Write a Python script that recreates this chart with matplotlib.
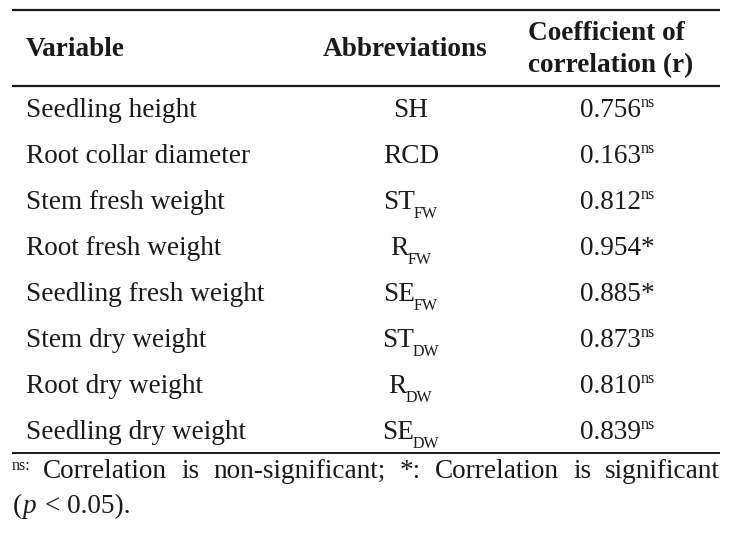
import matplotlib
matplotlib.use("Agg")
import matplotlib.pyplot as plt

plt.rcParams["font.family"] = ["Liberation Serif", "DejaVu Serif"]

# table content
headers = ["Variable", "Abbreviations", "Coefficient of\ncorrelation (r)"]
variables = ["Seedling height", "Root collar diameter", "Stem fresh weight", "Root fresh weight",
             "Seedling fresh weight", "Stem dry weight", "Root dry weight", "Seedling dry weight"]
abbr_base = ["SH", "RCD", "ST", "R", "SE", "ST", "R", "SE"]
abbr_sub = ["", "", "FW", "FW", "FW", "DW", "DW", "DW"]
r_values = [0.756, 0.163, 0.812, 0.954, 0.885, 0.873, 0.810, 0.839]
r_marks = ["ns", "ns", "ns", "*", "*", "ns", "ns", "ns"]
footnote_words = ["Correlation", "is", "non-significant;", "*:", "Correlation", "is", "significant"]

W, H = 729, 533
fig = plt.figure(figsize=(W / 100, H / 100), dpi=100)
ax = fig.add_axes([0, 0, 1, 1])
ax.set_xlim(0, W)
ax.set_ylim(H, 0)
ax.axis("off")
renderer = fig.canvas.get_renderer()

FS = 19.6
SMALL = 11.5
color = "#1a1a1a"


def width(t):
    return t.get_window_extent(renderer).width


# rules
ax.plot([12, 720], [10, 10], color=color, lw=1.6, solid_capstyle="butt")
ax.plot([12, 720], [86, 86], color=color, lw=1.6, solid_capstyle="butt")
ax.plot([12, 720], [453, 453], color=color, lw=1.4, solid_capstyle="butt")

# header
ax.text(26, 56, headers[0], fontsize=FS, fontweight="bold", va="baseline", ha="left", color=color)
ax.text(405, 56, headers[1], fontsize=FS, fontweight="bold", va="baseline", ha="center", color=color)
for i, line in enumerate(headers[2].split("\n")):
    ax.text(528, 40 + 32 * i, line, fontsize=FS, fontweight="bold", va="baseline", ha="left", color=color)

# body rows
for i, var in enumerate(variables):
    y = 117 + 46 * i
    ax.text(26, y, var, fontsize=FS, va="baseline", ha="left", color=color)

    base = ax.text(0, y, abbr_base[i], fontsize=FS, va="baseline", ha="left", color=color)
    sub = ax.text(0, y + 9, abbr_sub[i], fontsize=SMALL, va="baseline", ha="left", color=color)
    wb = width(base)
    ws = width(sub) if abbr_sub[i] else 0
    x0 = 411 - (wb + ws) / 2
    base.set_x(x0)
    sub.set_x(x0 + wb - 1)

    val = ax.text(580, y, f"{r_values[i]:.3f}", fontsize=FS, va="baseline", ha="left", color=color)
    wv = width(val)
    if r_marks[i] == "*":
        ax.text(580 + wv, y, "*", fontsize=FS, va="baseline", ha="left", color=color)
    else:
        ax.text(580 + wv, y - 10, r_marks[i], fontsize=SMALL, va="baseline", ha="left", color=color)

# footnote, justified first line
ax.text(12, 470, "ns:", fontsize=SMALL, va="baseline", ha="left", color=color)
fs_note = 19.6
word_texts = [ax.text(0, 478, w, fontsize=fs_note, va="baseline", ha="left", color=color)
              for w in footnote_words]
widths = [width(t) for t in word_texts]
left, right = 43, 720
gap = (right - left - sum(widths)) / (len(word_texts) - 1)
x = left
for t, w in zip(word_texts, widths):
    t.set_x(x)
    x += w + gap

p1 = ax.text(13, 513, "(", fontsize=fs_note, va="baseline", ha="left", color=color)
w1 = width(p1)
p2 = ax.text(13 + w1, 513, "p", fontsize=fs_note, style="italic", va="baseline", ha="left", color=color)
w2 = width(p2)
ax.text(13 + w1 + w2 + 2, 513, " < 0.05).", fontsize=fs_note, va="baseline", ha="left", color=color)

fig.savefig("out.png", dpi=100, facecolor="white")
